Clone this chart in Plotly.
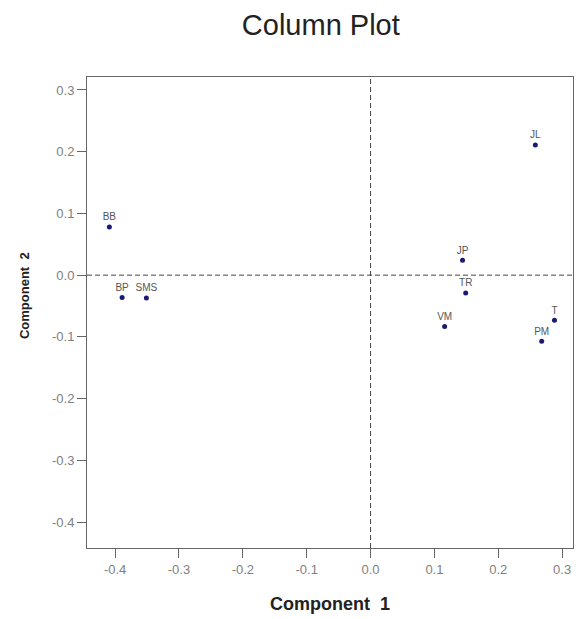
import plotly.graph_objects as go

labels = ["BB", "BP", "SMS", "JL", "JP", "TR", "VM", "T", "PM"]
comp1 = [-0.409, -0.389, -0.351, 0.258, 0.144, 0.149, 0.116, 0.288, 0.268]
comp2 = [0.078, -0.036, -0.037, 0.211, 0.024, -0.029, -0.083, -0.073, -0.107]

tickvals_x = [-0.4, -0.3, -0.2, -0.1, 0.0, 0.1, 0.2, 0.3]
tickvals_y = [0.3, 0.2, 0.1, 0.0, -0.1, -0.2, -0.3, -0.4]

FONT = "Arial, Liberation Sans, sans-serif"

fig = go.Figure()
fig.add_trace(go.Scatter(
    x=comp1, y=comp2, mode="markers+text", text=labels,
    textposition="top center",
    textfont=dict(family=FONT, size=10, color="#555555"),
    marker=dict(color="#1a1a70", size=5, symbol="circle"),
    showlegend=False, cliponaxis=False,
))

fig.add_shape(type="line", x0=0, x1=0, y0=0, y1=1, xref="x", yref="paper",
              line=dict(color="#444444", width=1, dash="5px,3px"))
fig.add_shape(type="line", x0=0, x1=1, y0=0, y1=0, xref="paper", yref="y",
              line=dict(color="#444444", width=1, dash="5px,3px"))

axis_common = dict(
    showgrid=False, zeroline=False, showline=True, mirror=True,
    linecolor="#666666", linewidth=1, ticks="outside", ticklen=9,
    tickcolor="#666666", automargin=False,
    tickfont=dict(family=FONT, size=13, color="#808080"),
)

fig.add_annotation(text="<b>Component  1</b>", xref="paper", yref="paper",
                   x=0.5, y=-0.119, xanchor="center", yanchor="middle", showarrow=False,
                   font=dict(family=FONT, size=18, color="#222222"))
fig.add_annotation(text="<b>Component  2</b>", xref="paper", yref="paper",
                   x=-0.1296, y=0.535, xanchor="center", yanchor="middle", showarrow=False,
                   textangle=-90, font=dict(family=FONT, size=13, color="#222222"))

fig.update_layout(
    width=576, height=619,
    paper_bgcolor="white", plot_bgcolor="white",
    margin=dict(l=87, r=3, t=77, b=71),
    title=dict(text="Column Plot", x=0.557, xanchor="center", y=0.96, yanchor="middle",
               font=dict(family=FONT, size=29, color="#222222")),
    xaxis=dict(range=[-0.444, 0.317], tickvals=tickvals_x,
               ticktext=[f"{v:.1f}" for v in tickvals_x], **axis_common),
    yaxis=dict(range=[-0.442, 0.321], tickvals=tickvals_y,
               ticktext=[f"{v:.1f}" for v in tickvals_y], **axis_common),
)

fig.write_html("out.html", config={"displayModeBar": False},
               post_script="document.body.style.margin='0';")
